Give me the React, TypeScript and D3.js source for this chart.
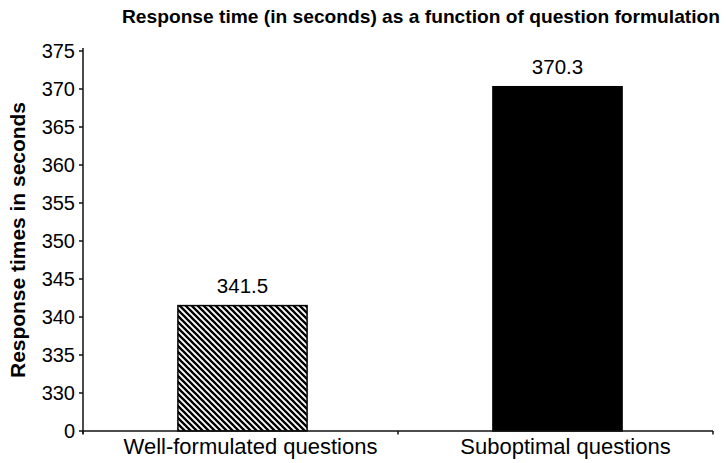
import React from "react";
import * as d3 from "d3";

const categories = ["Well-formulated questions", "Suboptimal questions"];
const values = [341.5, 370.3];
const valueLabels = ["341.5", "370.3"];
const tickValues = [325, 330, 335, 340, 345, 350, 355, 360, 365, 370, 375];
const tickLabels = ["0", "330", "335", "340", "345", "350", "355", "360", "365", "370", "375"];
const title = "Response time (in seconds) as a function of question formulation";
const yTitle = "Response times in seconds";

const W = 728;
const H = 463;
const left = 83;
const right = 713;
const bottom = 431;
const top = 51;
const font = "'Liberation Sans', Arial, Helvetica, sans-serif";

export default function App() {
  const x = d3.scaleBand<string>().domain(categories).range([left, right]).paddingInner(0.59).paddingOuter(0.295);
  const y = d3.scaleLinear().domain([325, 375]).range([bottom, top]);
  const step = x.step();
  const boundaries = [left, left + step, right];

  return (
    <svg width={W} height={H} style={{ position: "absolute", left: 0, top: 0, background: "#fff" }}>
      <defs>
        <pattern id="hatch" patternUnits="userSpaceOnUse" width={6} height={6}>
          <rect width={6} height={6} fill="#fff" />
          <path d="M0,0 L6,6 M-3,3 L3,9 M3,-3 L9,3" stroke="#000" strokeWidth={2.3} />
        </pattern>
      </defs>
      <text x={421} y={23} textAnchor="middle" fontFamily={font} fontWeight="bold" fontSize={19} textLength={598} lengthAdjust="spacingAndGlyphs" fill="#000">
        {title}
      </text>
      <text transform={`translate(25,240) rotate(-90)`} textAnchor="middle" fontFamily={font} fontWeight="bold" fontSize={21} textLength={276} lengthAdjust="spacingAndGlyphs" fill="#000">
        {yTitle}
      </text>
      {categories.map((c, i) => {
        const bx = (x(c) as number) + 2;
        const bw = x.bandwidth();
        const by = y(values[i]);
        return (
          <g key={c}>
            <rect x={bx} y={by} width={bw} height={bottom - by} fill={i === 0 ? "url(#hatch)" : "#000"} stroke="#000" strokeWidth={1.5} />
            <text x={bx + bw / 2} y={by - 13} textAnchor="middle" fontFamily={font} fontSize={20.5} fill="#000">
              {valueLabels[i]}
            </text>
            <text x={(x(c) as number) + bw / 2 + 10} y={454} textAnchor="middle" fontFamily={font} fontSize={22} fill="#000">
              {c}
            </text>
          </g>
        );
      })}
      <line x1={left} x2={left} y1={top - 3} y2={bottom + 3} stroke="#111" strokeWidth={1.5} />
      <line x1={left} x2={right} y1={bottom} y2={bottom} stroke="#111" strokeWidth={1.5} />
      {boundaries.map((b, i) => (
        <line key={i} x1={b} x2={b} y1={bottom} y2={bottom + 3.5} stroke="#111" strokeWidth={1.5} />
      ))}
      {tickValues.map((t, i) => (
        <g key={t}>
          <line x1={left - 4} x2={left} y1={y(t)} y2={y(t)} stroke="#111" strokeWidth={1.5} />
          <text x={75} y={y(t)} dy="0.36em" textAnchor="end" fontFamily={font} fontSize={20} fill="#000">
            {tickLabels[i]}
          </text>
        </g>
      ))}
    </svg>
  );
}
